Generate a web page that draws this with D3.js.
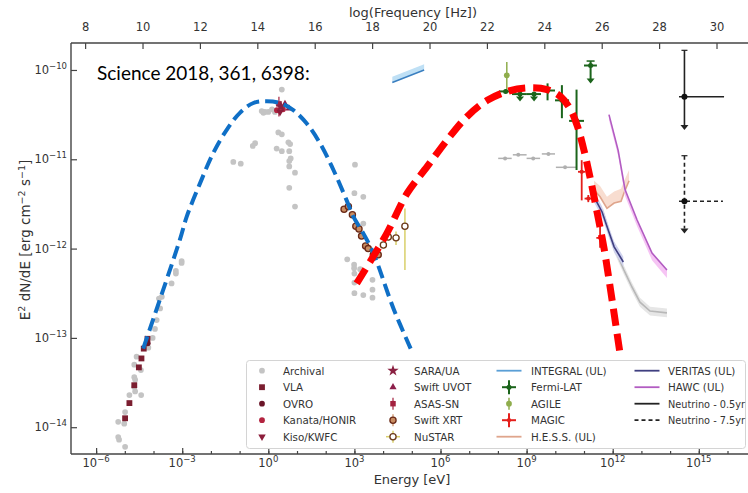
<!DOCTYPE html>
<html>
<head>
<meta charset="utf-8">
<script src="https://cdn.jsdelivr.net/npm/d3@7"></script>
<style>
  body { margin: 0; background: #fff; }
  text { font-family: "DejaVu Sans", sans-serif; fill: #333; }
</style>
</head>
<body>
<svg id="mainsvg" width="748" height="493"></svg>
<script>
// all values are log10: [log E (eV), log E^2 dN/dE (erg cm^-2 s^-1), ...]
const archival = [[-5.23,-13.94],[-5.23,-14.11],[-5.20,-14.14],[-4.99,-14.22],[-5.02,-13.96],[-4.99,-13.83],
  [-4.84,-13.64],[-4.67,-13.55],[-4.64,-13.60],[-4.67,-13.44],[-4.64,-13.47],[-4.67,-13.30],[-4.59,-13.21],
  [-4.44,-13.36],[-4.43,-13.64],[-4.18,-13.11],[-4.03,-13.00],[-3.95,-12.90],[-3.89,-12.80],[-3.77,-12.67],
  [-3.81,-12.56],[-3.71,-12.54],[-3.37,-12.39],[-3.22,-12.28],[-3.22,-12.25],[-3.02,-12.14],[-3.02,-12.16],
  [0.47,-10.22],[-0.23,-10.46],[-0.12,-10.47],[0.0,-10.47],[-0.17,-10.48],[0.13,-10.44],[0.23,-10.47],
  [0.35,-10.70],[0.47,-10.72],[0.70,-10.81],[0.76,-10.83],[-0.46,-10.82],[-0.54,-10.85],[0.29,-10.88],
  [0.47,-10.91],[0.73,-10.91],[0.78,-10.99],[0.73,-11.02],[0.73,-11.08],[-1.22,-11.03],[-0.96,-11.05],
  [0.93,-11.15],[0.73,-11.32],[0.93,-11.53],
  [3.02,-11.06],[3.00,-11.38],[3.31,-11.42],[3.31,-11.72],[2.75,-12.12],[2.99,-12.18],[2.99,-12.22],
  [3.20,-12.23],[3.00,-12.28],[3.00,-12.38],[3.63,-12.35],[3.63,-12.46],[3.00,-12.50],[3.31,-12.52],[3.63,-12.55]];
// [E, F, Elo, Ehi]
const archivalBars = [[8.25,-10.99,8.01,8.48],[8.71,-10.95,8.52,9.00],[9.23,-10.99,9.00,9.47],
  [9.76,-10.94,9.53,9.99],[10.34,-11.09,10.02,10.75]];
const vla = [[-4.99,-13.90],[-4.84,-13.73],[-4.67,-13.53],[-4.51,-13.33],[-4.42,-13.23],[-4.34,-13.12],[-4.21,-13.01]];
const ovro = [[-4.20,-13.06]];
const kanata = [[0.30,-10.45],[0.51,-10.44]];
const kiso = [[0.41,-10.47]];
const sara = [[0.44,-10.41]];
const uvot = [[0.72,-10.43],[0.58,-10.38]];
// [E, F, Flo, Fhi]
const asassn = [[0.37,-10.38,-10.52,-10.30]];
const xrt = [[2.64,-11.56],[2.79,-11.53],[2.93,-11.62],[3.05,-11.75],[3.16,-11.78],[3.25,-11.86],
  [3.39,-11.97],[3.48,-12.00],[3.66,-12.07],[3.83,-12.07]];
const nustar = [[4.01,-11.96,-12.00,-11.92],[4.18,-11.87,-11.91,-11.83],[4.45,-11.88,-11.96,-11.81],[4.76,-11.75,-12.24,-11.55]];
// [E, F, Fhi of band]
const integral = [[4.32,-10.14,-10.075],[5.43,-10.00,-9.936]];
// [E, F, Elo, Ehi, Flo, Fhi, upper limit]
const fermi = [[8.27,-10.24,8.04,8.49,-10.26,-10.22,0],[8.77,-10.27,8.49,9.01,-10.33,-10.27,1],
  [9.26,-10.27,9.01,9.50,-10.33,-10.27,1],[9.73,-10.23,9.50,9.99,-10.34,-10.15,0],
  [10.23,-10.34,9.99,10.48,-10.54,-10.17,0],[10.74,-10.57,10.48,11.00,-11.12,-10.22,0],
  [11.23,-9.95,11.00,11.45,-10.13,-9.90,1]];
const agile = [[8.31,-10.06,-10.24,-9.91]];
const magic = [[10.92,-11.14,-11.46,-11.01],[11.15,-11.44,-11.48,-11.40],[11.56,-11.88,-11.99,-11.74]];
// [E, F, band lo, band hi]
const hess = [[11.35,-11.34,-11.34,-11.24],[11.56,-11.42,-11.42,-11.30],[11.80,-11.55,-11.55,-11.42],
  [12.05,-11.49,-11.49,-11.36],[12.29,-11.47,-11.47,-11.33],[12.39,-11.38,-11.38,-11.25],[12.57,-11.24,-11.24,-11.12]];
const veritas = [[11.35,-11.42,-11.48,-11.36],[11.63,-11.59,-11.65,-11.53],[11.84,-11.79,-11.85,-11.73],
  [12.05,-11.98,-12.04,-11.92],[12.37,-12.15,-12.20,-12.09]];
const grayLimit = [[11.66,-11.59,-11.64,-11.54],[12.05,-11.99,-12.04,-11.95],[12.39,-12.24,-12.29,-12.19],
  [12.67,-12.43,-12.48,-12.38],[12.95,-12.60,-12.65,-12.55],[13.30,-12.70,-12.75,-12.65],[13.89,-12.72,-12.77,-12.67]];
const hawc = [[11.87,-10.50,-10.56,-10.50],[12.19,-10.90,-10.96,-10.90],[12.43,-11.34,-11.41,-11.34],
  [12.85,-11.68,-11.75,-11.68],[13.37,-12.05,-12.13,-12.05],[13.89,-12.24,-12.33,-12.24]];
// [E, F, Elo, Ehi, Ftop, Fbottom]
const nu05 = [14.50,-10.30,14.31,15.88,-9.78,-10.65];
const nu75 = [14.50,-11.47,14.31,15.84,-10.96,-11.81];
// model curves
const synchrotron = [[-4.36,-13.12],[-3.08,-11.90],[-2.84,-11.64],[-2.38,-11.27],[-1.92,-10.93],[-1.45,-10.67],
  [-0.99,-10.48],[-0.52,-10.37],[-0.06,-10.35],[0.41,-10.37],[0.87,-10.45],[1.34,-10.60],[1.80,-10.82],
  [2.27,-11.12],[2.73,-11.46],[2.96,-11.64],[3.31,-11.83],[3.66,-12.05],[4.36,-12.67],[4.96,-13.12]];
const inverseCompton = [[3.08,-12.39],[3.54,-12.15],[4.13,-11.83],[4.84,-11.38],[5.54,-11.08],[6.24,-10.78],
  [6.93,-10.52],[7.63,-10.34],[8.33,-10.24],[9.02,-10.20],[9.72,-10.22],[10.19,-10.30],[10.54,-10.45],
  [10.77,-10.63],[11.00,-10.90],[11.23,-11.23],[11.46,-11.60],[11.70,-12.00],[11.98,-12.58],[12.28,-13.23]];
const energyTicks = [-6,-3,0,3,6,9,12,15];
const fluxTicks = [-10,-11,-12,-13,-14];
const freqTicks = [8,10,12,14,16,18,20,22,24,26,28,30];

const svg = d3.select('#mainsvg');
const L = 71, R = 750, T = 43, B = 454;
const x = d3.scaleLog().domain([10 ** -6.875, 10 ** 16.784]).range([L, R]);
const y = d3.scaleLog().domain([10 ** -14.3, 10 ** -9.698]).range([B, T]);
const xf = d3.scaleLinear().domain([-6.875 + 14.383, 16.784 + 14.383]).range([L, R]);
const X = e => x(10 ** e);
const Y = f => y(10 ** f);

svg.append('clipPath').attr('id', 'clip').append('rect')
  .attr('x', L).attr('y', T).attr('width', R - L).attr('height', B - T);
const g = svg.append('g').attr('clip-path', 'url(#clip)');

const sty = {
  'Archival': { sym: d3.symbolCircle, size: 26, fill: '#c4c4c4' },
  'VLA': { sym: d3.symbolSquare, size: 34, fill: '#7b1e30' },
  'OVRO': { sym: d3.symbolCircle, size: 26, fill: '#6a1528' },
  'Kanata/HONIR': { sym: d3.symbolCircle, size: 26, fill: '#b3233f' },
  'Kiso/KWFC': { sym: d3.symbolTriangle, size: 24, fill: '#8c1d3b', rot: 180 },
  'SARA/UA': { sym: d3.symbolStar, size: 40, fill: '#8a2142' },
  'Swift UVOT': { sym: d3.symbolTriangle, size: 22, fill: '#8c1f4a' },
  'ASAS-SN': { sym: d3.symbolSquare, size: 30, fill: '#a3213f' },
  'Swift XRT': { sym: d3.symbolCircle, size: 30, fill: '#c98d62', stroke: '#6b2a18' },
  'NuSTAR': { sym: d3.symbolCircle, size: 30, fill: '#fff', stroke: '#6b3a1a' },
  'Fermi-LAT': { sym: d3.symbolCircle, size: 20, fill: '#1b641b' },
  'AGILE': { sym: d3.symbolCircle, size: 26, fill: '#8fad4c' },
  'MAGIC': { sym: d3.symbolCircle, size: 14, fill: '#e41f1c' },
};

function marker(sel, name) {
  const s = sty[name];
  sel.attr('d', d3.symbol(s.sym, s.size))
    .attr('fill', s.fill)
    .attr('stroke', s.stroke || 'none')
    .attr('stroke-width', 1.3);
}
function scatter(data, name) {
  g.append('g').selectAll('path').data(data).join('path')
    .attr('transform', d => `translate(${X(d[0])},${Y(d[1])}) rotate(${sty[name].rot || 0})`)
    .call(marker, name);
}
function seg(parent, x1, y1, x2, y2, color, w) {
  return parent.append('line').attr('x1', x1).attr('y1', y1).attr('x2', x2).attr('y2', y2)
    .attr('stroke', color).attr('stroke-width', w || 1.5);
}
function arrowDown(parent, cx, cy, color) {
  parent.append('path').attr('d', `M${cx - 4},${cy - 5}L${cx + 4},${cy - 5}L${cx},${cy}Z`).attr('fill', color);
}

// bands
const band = (data, lo, hi) => d3.area().x(d => X(d[0])).y0(d => Y(d[lo])).y1(d => Y(d[hi]))(data);
const lineOf = (data) => d3.line().x(d => X(d[0])).y(d => Y(d[1]))(data);
g.append('path').attr('d', band(integral, 1, 2)).attr('fill', '#bfe0f5');
g.append('path').attr('d', lineOf(integral)).attr('stroke', '#3a7fc0').attr('stroke-width', 1.5).attr('fill', 'none');
[[hess, '#f8ddd0', '#dfa58c'], [grayLimit, '#e6e6e6', '#b8b8b8'], [veritas, '#cfd2ee', '#3f3f80'], [hawc, '#f6c4f4', '#b25cc2']]
  .forEach(([d, bc, lc]) => {
    g.append('path').attr('d', band(d, 2, 3)).attr('fill', bc);
    g.append('path').attr('d', lineOf(d)).attr('stroke', lc).attr('stroke-width', 1.6).attr('fill', 'none');
  });

// archival
const gb = g.append('g');
archivalBars.forEach(d => {
  seg(gb, X(d[2]), Y(d[1]), X(d[3]), Y(d[1]), '#b0b0b0', 1.5);
  gb.append('circle').attr('cx', X(d[0])).attr('cy', Y(d[1])).attr('r', 2).attr('fill', '#b0b0b0');
});
scatter(archival, 'Archival');
scatter(vla, 'VLA');
scatter(ovro, 'OVRO');

// optical
const ob = g.append('g');
asassn.forEach(d => seg(ob, X(d[0]), Y(d[2]), X(d[0]), Y(d[3]), '#a3213f', 1.2));
scatter(asassn, 'ASAS-SN');
scatter(kanata, 'Kanata/HONIR');
scatter(kiso, 'Kiso/KWFC');
scatter(uvot, 'Swift UVOT');
scatter(sara, 'SARA/UA');

// x-ray
scatter(xrt, 'Swift XRT');
const nb = g.append('g');
nustar.forEach(d => {
  seg(nb, X(d[0]), Y(d[2]), X(d[0]), Y(d[3]), '#d9cf6a', 1.5);
  seg(nb, X(d[0] - 0.12), Y(d[1]), X(d[0] + 0.12), Y(d[1]), '#d9cf6a', 1.5);
});
scatter(nustar, 'NuSTAR');

// gamma
const fb = g.append('g');
agile.forEach(d => seg(fb, X(d[0]), Y(d[2]), X(d[0]), Y(d[3]), '#8fad4c', 1.5));
scatter(agile, 'AGILE');
fermi.forEach(d => {
  seg(fb, X(d[2]), Y(d[1]), X(d[3]), Y(d[1]), '#1b641b', 2);
  seg(fb, X(d[0]), Y(d[5]), X(d[0]), Y(d[4]), '#1b641b', 2);
  if (d[6]) arrowDown(fb, X(d[0]), Y(d[4]) + 2, '#1b641b');
  if (d[6] && d[5] > d[1]) seg(fb, X(d[0]) - 4, Y(d[5]), X(d[0]) + 4, Y(d[5]), '#1b641b', 1.5);
});
scatter(fermi, 'Fermi-LAT');
magic.forEach(d => {
  seg(fb, X(d[0]), Y(d[2]), X(d[0]), Y(d[3]), '#e41f1c', 1.8);
  seg(fb, X(d[0] - 0.13), Y(d[1]), X(d[0] + 0.13), Y(d[1]), '#e41f1c', 1.8);
});
scatter(magic, 'MAGIC');

// neutrino upper limits
[[nu05, null], [nu75, '4,3']].forEach(([d, dash]) => {
  const ng = g.append('g').attr('stroke-dasharray', dash);
  seg(ng, X(d[2]), Y(d[1]), X(d[3]), Y(d[1]), '#222', 1.6);
  seg(ng, X(d[0]), Y(d[4]), X(d[0]), Y(d[5]) - 3, '#222', 1.6);
  seg(g, X(d[0]) - 3, Y(d[4]), X(d[0]) + 3, Y(d[4]), '#222', 1.2);
  arrowDown(g, X(d[0]), Y(d[5]) + 2, '#222');
  g.append('circle').attr('cx', X(d[0])).attr('cy', Y(d[1])).attr('r', 3).attr('fill', '#111');
});

// model curves
g.append('path').attr('d', d3.line().curve(d3.curveCatmullRom).x(d => X(d[0])).y(d => Y(d[1]))(synchrotron))
  .attr('fill', 'none').attr('stroke', '#0f6fc6').attr('stroke-width', 4).attr('stroke-dasharray', '13,6');
g.append('path').attr('d', d3.line().curve(d3.curveCatmullRom).x(d => X(d[0])).y(d => Y(d[1]))(inverseCompton))
  .attr('fill', 'none').attr('stroke', '#ff0000').attr('stroke-width', 7).attr('stroke-dasharray', '17,8');

// axes
const axisStyle = sel => { sel.selectAll('.domain').remove(); sel.selectAll('line').attr('stroke', '#444').attr('stroke-width', 1.2); };
svg.append('g').attr('transform', `translate(0,${B})`)
  .call(d3.axisBottom(x).tickValues(d3.range(-6, 17).map(e => 10 ** e)).tickSize(-3).tickFormat('')).call(axisStyle);
svg.append('g').attr('transform', `translate(0,${B})`)
  .call(d3.axisBottom(x).tickValues(energyTicks.map(e => 10 ** e)).tickSize(-6).tickFormat('')).call(axisStyle);
svg.append('g').attr('transform', `translate(${L},0)`)
  .call(d3.axisLeft(y).tickValues(fluxTicks.map(e => 10 ** e)).tickSize(-6).tickFormat('')).call(axisStyle);
svg.append('g').attr('transform', `translate(0,${T})`)
  .call(d3.axisTop(xf).tickValues(freqTicks).tickSize(-6).tickPadding(12)).call(axisStyle)
  .selectAll('text').attr('font-size', 11.5).attr('font-family', 'DejaVu Sans').attr('fill', '#333');
seg(svg, L, B, R, B, '#444', 1.4);
seg(svg, L, T, R, T, '#444', 1.4);
seg(svg, L, T, L, B, '#444', 1.4);

function powLabel(sel, exp) {
  sel.append('tspan').text('10');
  sel.append('tspan').attr('dy', -5).attr('font-size', 8.5).text(String(exp).replace('-', '\u2212'));
}
svg.append('g').selectAll('text').data(energyTicks).join('text')
  .attr('x', d => X(d)).attr('y', 467).attr('text-anchor', 'middle').attr('font-size', 11.5)
  .each(function (d) { powLabel(d3.select(this), d); });
svg.append('g').selectAll('text').data(fluxTicks).join('text')
  .attr('x', 67).attr('y', d => Y(d) + 4).attr('text-anchor', 'end').attr('font-size', 11.5)
  .each(function (d) { powLabel(d3.select(this), d); });

svg.append('text').attr('x', 412).attr('y', 484).attr('text-anchor', 'middle').attr('font-size', 13).text('Energy [eV]');
svg.append('text').attr('x', 413).attr('y', 17).attr('text-anchor', 'middle').attr('font-size', 13).text('log(Frequency [Hz])');
const ylab = svg.append('text').attr('transform', 'translate(30,240) rotate(-90)').attr('text-anchor', 'middle').attr('font-size', 13.5);
ylab.append('tspan').text('E');
ylab.append('tspan').attr('dy', -5).attr('font-size', 9.5).text('2');
ylab.append('tspan').attr('dy', 5).text(' dN/dE [erg cm');
ylab.append('tspan').attr('dy', -5).attr('font-size', 9.5).text('\u22122');
ylab.append('tspan').attr('dy', 5).text(' s');
ylab.append('tspan').attr('dy', -5).attr('font-size', 9.5).text('\u22121');
ylab.append('tspan').attr('dy', 5).text(']');

svg.append('text').attr('x', 97).attr('y', 80).attr('font-size', 19)
  .style('font-family', 'Lato, sans-serif').style('fill', '#000').text('Science 2018, 361, 6398:');

// legend
const legendCols = [
  ['Archival', 'VLA', 'OVRO', 'Kanata/HONIR', 'Kiso/KWFC'],
  ['SARA/UA', 'Swift UVOT', 'ASAS-SN', 'Swift XRT', 'NuSTAR'],
  ['INTEGRAL (UL)', 'Fermi-LAT', 'AGILE', 'MAGIC', 'H.E.S.S. (UL)'],
  ['VERITAS (UL)', 'HAWC (UL)', 'Neutrino - 0.5yr', 'Neutrino - 7.5yr'],
];
const lineKeys = {
  'INTEGRAL (UL)': ['#5a9fd6', null], 'H.E.S.S. (UL)': ['#dfa58c', null], 'VERITAS (UL)': ['#3f3f80', null],
  'HAWC (UL)': ['#b25cc2', null], 'Neutrino - 0.5yr': ['#222', null], 'Neutrino - 7.5yr': ['#222', '4,3'],
};
const lg = svg.append('g');
lg.append('rect').attr('x', 246.5).attr('y', 360.5).attr('width', 499).attr('height', 88).attr('rx', 3)
  .attr('fill', '#fff').attr('fill-opacity', 0.9).attr('stroke', '#d4d4d4');
const colX = [262, 393, 509, 647];
const textX = [283, 414, 531, 668];
legendCols.forEach((col, ci) => col.forEach((name, ri) => {
  const cy = 370.7 + ri * 16.5, cx = colX[ci];
  if (lineKeys[name]) {
    seg(lg, cx - 12.5, cy, cx + 12.5, cy, lineKeys[name][0], 1.8).attr('stroke-dasharray', lineKeys[name][1]);
  } else {
    if (name === 'ASAS-SN' || name === 'Swift XRT') seg(lg, cx, cy - 6, cx, cy + 6, sty[name].fill, 1.2);
    if (name === 'NuSTAR') { seg(lg, cx, cy - 6, cx, cy + 6, '#d9cf6a', 1.5); seg(lg, cx - 7, cy, cx + 7, cy, '#d9cf6a', 1.5); }
    if (name === 'Fermi-LAT' || name === 'MAGIC') { seg(lg, cx, cy - 7, cx, cy + 7, sty[name].fill, 2); seg(lg, cx - 7, cy, cx + 7, cy, sty[name].fill, 2); }
    if (name === 'AGILE') seg(lg, cx, cy - 6, cx, cy + 6, sty[name].fill, 1.5);
    lg.append('path').attr('transform', `translate(${cx},${cy}) rotate(${sty[name].rot || 0})`).call(marker, name);
  }
  const t = lg.append('text').attr('x', textX[ci]).attr('y', cy + 4).attr('font-size', 10.3).text(name);
  if (name.startsWith('Neutrino')) t.attr('textLength', 77).attr('lengthAdjust', 'spacingAndGlyphs');
}));
</script>
</body>
</html>
